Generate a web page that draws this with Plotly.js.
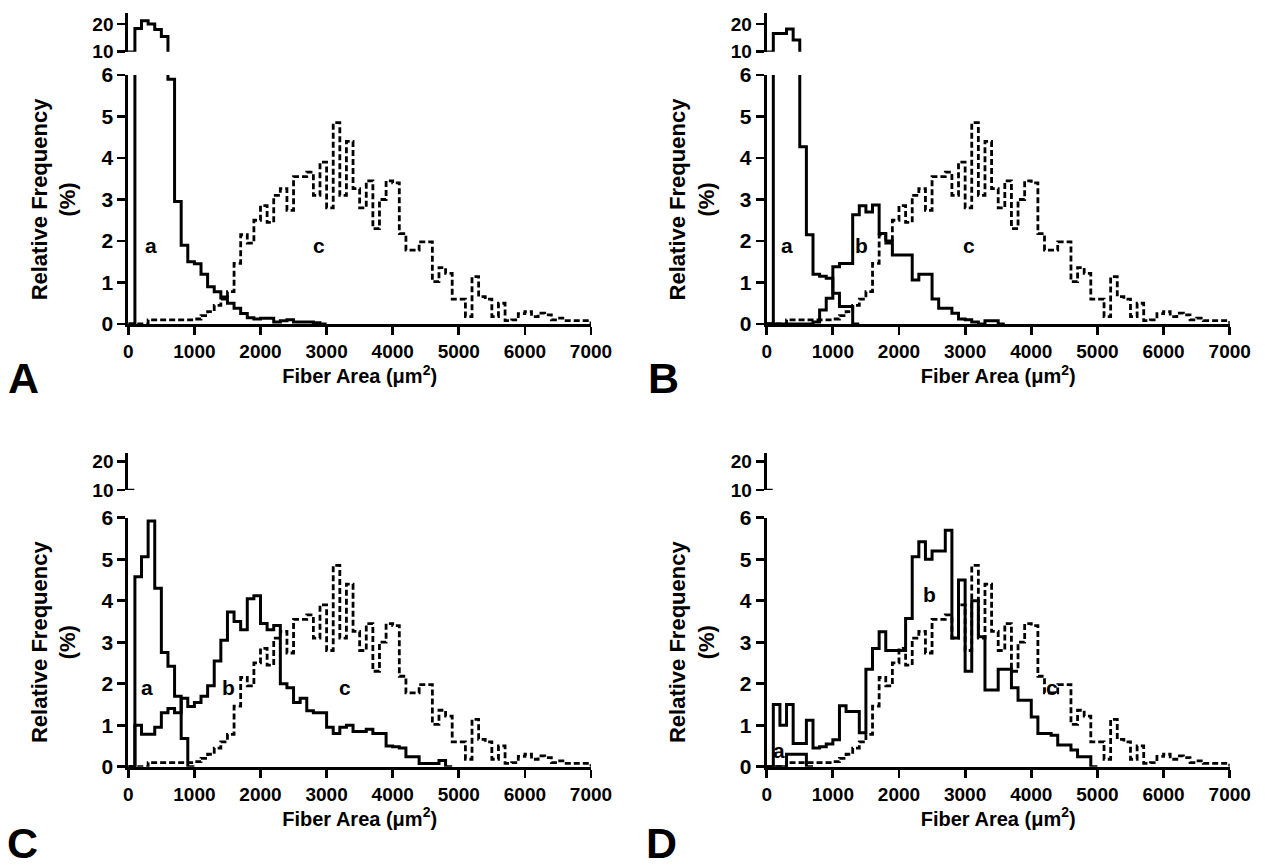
<!DOCTYPE html>
<html><head><meta charset="utf-8">
<script src="https://cdn.plot.ly/plotly-3.0.1.min.js"></script>
<style>html,body{margin:0;padding:0;background:#fff}#chart{width:1265px;height:867px}</style>
</head><body><div id="chart"></div>
<script>
// ---------- DATA (relative frequency %, bins of 100 µm², starting at 0) ----------
const binWidth = 100;
const areaTicks = [0,1000,2000,3000,4000,5000,6000,7000];
const freqTicksLower = [0,1,2,3,4,5,6];
const freqTicksUpper = [10,20];

// curve c (dashed, same in all four panels)
const curveC = [0,0,0,0.1,0.1,0.1,0.1,0.1,0.1,0.1,
  0.12,0.2,0.3,0.45,0.6,0.78,1.46,2.15,1.95,2.5,
  2.85,2.45,3.1,3.26,2.74,3.55,3.55,3.66,3.1,3.9,
  2.8,4.85,3.1,4.4,3.26,2.8,3.45,2.3,3.0,3.45,
  3.4,2.18,1.78,1.78,1.98,1.98,1.02,1.36,1.22,0.6,
  0.6,0.18,1.14,0.66,0.6,0.18,0.5,0.08,0.1,0.25,
  0.3,0.18,0.26,0.22,0.1,0.14,0.08,0.08,0.08,0.08];

// panel A
const curveA_a = [0,18.4,21.2,20,18,15.5,5.9,2.95,1.9,1.5,
  1.45,1.2,0.9,0.78,0.65,0.5,0.38,0.25,0.15,0.12,
  0.14,0.14,0.05,0.08,0.1,0.05,0.05,0.05,0.03,0];
// panel B
const curveB_a = [0,16.6,16.6,18.2,14.2,4.27,2.15,1.2,1.15,1.1,
  0.74,0.42,0.42,0];
const curveB_b = [0,0,0,0,0,0,0,0.05,0.34,0.62,
  1.38,1.46,1.46,2.63,2.85,2.7,2.87,2.18,2.0,1.66,
  1.66,1.66,1.06,1.2,1.2,0.6,0.38,0.38,0.26,0.12,
  0.1,0.05,0,0.08,0.08,0];
// panel C
const curveC_a = [0,4.58,5.06,5.92,4.3,2.75,2.42,1.7,0.68,0];
const curveC_b = [0,1.0,0.78,0.78,0.95,1.3,1.4,1.3,1.65,1.45,
  1.55,1.7,1.95,2.55,3.05,3.73,3.5,3.3,4.05,4.12,
  3.45,3.3,3.4,2.0,1.9,1.55,1.65,1.35,1.3,1.3,
  0.95,0.8,0.95,1.0,0.85,0.85,0.9,0.8,0.8,0.5,
  0.48,0.45,0.24,0.24,0.08,0.08,0.08,0.15,0];
// panel D
const curveD_a = [0,0,0,0.3,0.3,0.3,0];
const curveD_b = [0,1.5,1.0,1.5,0.56,0.56,1.12,0.45,0.48,0.55,
  0.65,1.47,1.33,1.33,0.82,2.35,2.85,3.25,2.8,2.8,
  2.8,3.57,5.06,5.42,5.0,5.2,5.2,5.7,3.1,4.5,
  2.3,4.0,3.13,1.85,1.85,2.35,2.35,1.9,1.6,1.6,
  1.2,0.8,0.8,0.76,0.52,0.52,0.4,0.24,0.24,0];

const panelLetters = ['A','B','C','D'];
const curveLabels = [
  [['a',350,1.9],['c',2880,1.9]],
  [['a',300,1.9],['b',1440,1.9],['c',3060,1.9]],
  [['a',290,1.9],['b',1510,1.9],['c',3280,1.9]],
  [['a',180,0.38],['b',2460,4.15],['c',4310,1.9]]
];
const panelSeries = [
  [{v:curveA_a,d:false},{v:curveC,d:true}],
  [{v:curveB_a,d:false},{v:curveB_b,d:false},{v:curveC,d:true}],
  [{v:curveC_a,d:false},{v:curveC_b,d:false},{v:curveC,d:true}],
  [{v:curveD_a,d:false},{v:curveD_b,d:false},{v:curveC,d:true}]
];

// ---------- LAYOUT GEOMETRY (pixels) ----------
const W=1265, H=867;
const fx = p => p/W, fy = p => 1 - p/H;
const geom = [
  {x0:128.3, x1:591,    low:[75,324],      up:[13,51.7],  upR:[10,24],   letter:[23,378]},
  {x0:766.7, x1:1229.7, low:[75,324],      up:[13,51.7],  upR:[10,24],   letter:[663,378]},
  {x0:128.3, x1:591,    low:[517.7,766.7], up:[453,490],  upR:[10,23.1], letter:[22,843]},
  {x0:766.7, x1:1229.7, low:[517.7,766.7], up:[453,490],  upR:[10,23.1], letter:[661,843]}
];
const FONT = 'Liberation Sans, Arial, sans-serif';

function stepXY(vals){
  const x=[], y=[];
  vals.forEach((v,i)=>{ x.push(i*binWidth); y.push(v); });
  x.push(vals.length*binWidth); y.push(0);
  return {x,y};
}

const traces = [];
const layout = {
  width:W, height:H, margin:{l:0,r:0,t:0,b:0},
  paper_bgcolor:'#fff', plot_bgcolor:'rgba(0,0,0,0)',
  showlegend:false, annotations:[], shapes:[],
  font:{family:FONT, color:'#000'}
};

geom.forEach((g,i)=>{
  const xn = i+1, yl = 2*i+1, yu = 2*i+2;
  const xk = xn===1?'xaxis':'xaxis'+xn;
  const ylk = yl===1?'yaxis':'yaxis'+yl;
  const yuk = 'yaxis'+yu;
  const xref = xn===1?'x':'x'+xn;
  const ylref = yl===1?'y':'y'+yl;
  const yuref = 'y'+yu;
  layout[xk] = {
    domain:[fx(g.x0),fx(g.x1)], range:[0,7000], anchor:ylref,
    tickvals:areaTicks, ticks:'outside', ticklen:8, tickwidth:2.8, tickcolor:'#000',
    showline:true, linewidth:3, linecolor:'#000', showgrid:false, zeroline:false,
    tickfont:{family:FONT, size:19, weight:'bold'},
    title:{text:'Fiber Area (\u03bcm<sup>2</sup>)', font:{family:FONT,size:20,weight:'bold'}, standoff:7}
  };
  layout[ylk] = {
    domain:[fy(g.low[1]),fy(g.low[0])], range:[0,6], anchor:xref,
    tickvals:freqTicksLower, ticks:'outside', ticklen:8, tickwidth:2.8, tickcolor:'#000',
    showline:true, linewidth:3, linecolor:'#000', showgrid:false, zeroline:false,
    tickfont:{family:FONT, size:21, weight:'bold'},
    title:{text:'Relative Frequency<br>(%)', font:{family:FONT,size:22,weight:'bold'}, standoff:20}
  };
  layout[yuk] = {
    domain:[fy(g.up[1]),fy(g.up[0])], range:g.upR, anchor:xref,
    tickvals:freqTicksUpper, ticks:'outside', ticklen:8, tickwidth:2.8, tickcolor:'#000',
    showline:true, linewidth:3, linecolor:'#000', showgrid:false, zeroline:false,
    tickfont:{family:FONT, size:19, weight:'bold'}
  };
  panelSeries[i].forEach(s=>{
    const xy = stepXY(s.v);
    const line = s.d ? {color:'#000', width:2.8, shape:'hv', dash:'6px,3px'}
                     : {color:'#000', width:3, shape:'hv', dash:'solid'};
    traces.push({type:'scatter', mode:'lines', x:xy.x, y:xy.y, xaxis:xref, yaxis:ylref, line, hoverinfo:'skip'});
    if (Math.max(...s.v) > g.upR[0]) {
      traces.push({type:'scatter', mode:'lines', x:xy.x, y:xy.y, xaxis:xref, yaxis:yuref, line, hoverinfo:'skip'});
    }
  });
  curveLabels[i].forEach(([t,x,y])=>{
    layout.annotations.push({text:t, x, y, xref, yref:ylref, showarrow:false,
      font:{family:FONT,size:21,weight:'bold',color:'#000'}});
  });
  // break foot on the upper axis
  layout.shapes.push({type:'line', xref:'paper', yref:yuref, x0:fx(g.x0-1), x1:fx(g.x0+6), y0:g.upR[0], y1:g.upR[0], line:{color:'#000',width:2.5}});
  // panel letter
  layout.annotations.push({text:panelLetters[i], xref:'paper', yref:'paper',
    x:fx(g.letter[0]), y:fy(g.letter[1]), xanchor:'center', yanchor:'middle', showarrow:false,
    font:{family:FONT,size:43,weight:'bold',color:'#000'}});
});

Plotly.newPlot('chart', traces, layout, {staticPlot:true});
</script>
</body></html>
